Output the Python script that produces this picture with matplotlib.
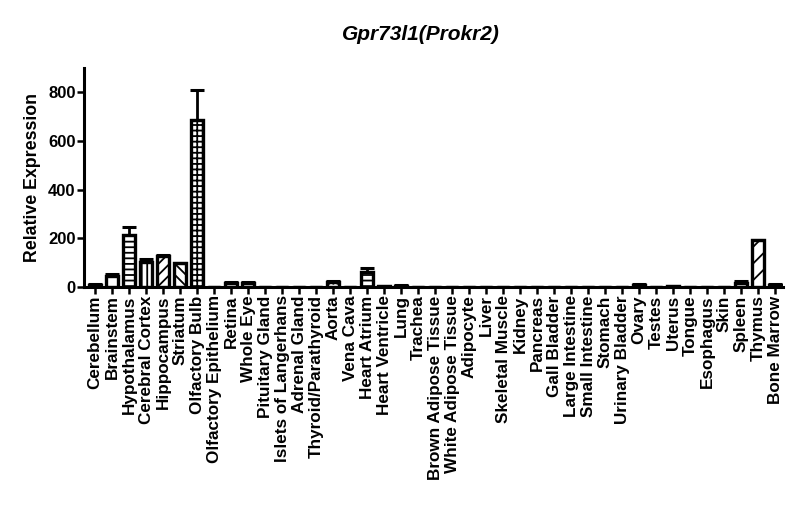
import matplotlib
matplotlib.use("Agg")
import matplotlib.pyplot as plt
import numpy as np

plt.rcParams['font.family'] = ['Liberation Sans', 'DejaVu Sans']
plt.rcParams['hatch.linewidth'] = 1.3

categories = ["Cerebellum", "Brainstem", "Hypothalamus", "Cerebral Cortex", "Hippocampus",
              "Striatum", "Olfactory Bulb", "Olfactory Epithelium", "Retina", "Whole Eye",
              "Pituitary Gland", "Islets of Langerhans", "Adrenal Gland", "Thyroid/Parathyroid",
              "Aorta", "Vena Cava", "Heart Atrium", "Heart Ventricle", "Lung", "Trachea",
              "Brown Adipose Tissue", "White Adipose Tissue", "Adipocyte", "Liver",
              "Skeletal Muscle", "Kidney", "Pancreas", "Gall Bladder", "Large Intestine",
              "Small Intestine", "Stomach", "Urinary Bladder", "Ovary", "Testes", "Uterus",
              "Tongue", "Esophagus", "Skin", "Spleen", "Thymus", "Bone Marrow"]
values = [10, 45, 215, 103, 127, 98, 685, 0, 18, 18,
          0, 0, 0, 0, 22, 0, 62, 3, 5, 0,
          0, 0, 0, 0, 0, 0, 0, 0, 0, 0,
          0, 0, 10, 0, 3, 0, 0, 0, 18, 192, 10]
errors = [3, 8, 30, 12, 6, 2, 125, 0, 2, 3,
          0, 0, 0, 0, 4, 0, 15, 1, 2, 0,
          0, 0, 0, 0, 0, 0, 0, 0, 0, 0,
          0, 0, 3, 0, 1, 0, 0, 0, 8, 3, 3]
hatches = ['', '', '---', '|||', '///', '\\\\\\', '+++', '', '....', '....',
           '', '', '', '', '....', '', '---', '', '', '',
           '', '', '', '', '', '', '', '', '', '',
           '', '', '', '', '', '', '', '', '', '//', '']
yticks = [0, 200, 400, 600, 800]

fig = plt.figure(figsize=(8, 5.28), dpi=100)
ax = fig.add_axes([0.105, 0.4564, 0.874, 0.4148])

x = np.arange(len(categories))
errs = np.array(errors)
ax.bar(x, values, width=0.72, color='white', edgecolor='black', linewidth=2.4,
       hatch=hatches, yerr=[np.zeros_like(errs), errs],
       error_kw=dict(ecolor='black', elinewidth=2, capsize=5, capthick=2.2), zorder=2)

ax.set_xlim(-0.65, 40.47)
ax.set_ylim(0, 900)
ax.set_yticks(yticks)
ax.set_yticklabels([str(v) for v in yticks], fontsize=12, fontweight='bold')
ax.set_xticks(x)
ax.set_xticklabels(categories, rotation=90, fontsize=12.3, fontweight='bold')
ax.tick_params(axis='both', direction='out', length=5, width=1.8, pad=1)
for s in ['top', 'right']:
    ax.spines[s].set_visible(False)
for s in ['left', 'bottom']:
    ax.spines[s].set_linewidth(2.2)
ax.set_ylabel('Relative Expression', fontsize=12.8, fontweight='bold', labelpad=5)

fig.text(0.526, 0.935, 'Gpr73l1(Prokr2)', fontsize=15, fontweight='bold', style='italic',
         ha='center', va='center')

fig.savefig('out.png', dpi=100)
